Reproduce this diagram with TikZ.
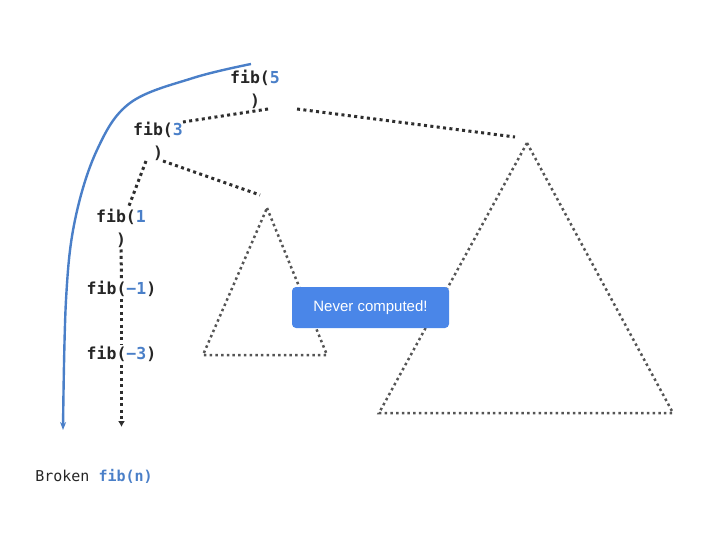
\documentclass[tikz,border=0pt]{standalone}
\usepackage{fontspec}
\setmainfont{Liberation Sans}
\setmonofont{DejaVu Sans Mono}
\usetikzlibrary{arrows.meta}
\definecolor{fibblue}{HTML}{4A7FC8}
\definecolor{boxblue}{HTML}{4A86E8}
\definecolor{dotgray}{HTML}{555555}

\begin{document}
\begin{tikzpicture}[x=1pt,y=-1pt,
    call/.style={font=\ttfamily\bfseries\fontsize{16.5}{23}\selectfont, align=center, inner sep=0pt, text=black!85},
    calledge/.style={line width=3pt, dash pattern=on 3pt off 3.4pt, draw=black!82},
    subtree/.style={line width=2.5pt, dash pattern=on 2.5pt off 3.2pt, draw=dotgray}]
      \useasboundingbox (0,0) rectangle (720,540);

       %draw subtrees
      \draw[subtree] (267,208) -- (327,355) -- (203,355) -- cycle;
      \draw[subtree] (527,143) -- (673,413) -- (379,413) -- cycle;
      \coordinate (smallin) at (260,195);
      \coordinate (bigin) at (515,137);
      \coordinate (bottom) at (121.5,427);

       %draw calls
      \node[call] (f5) at (255,89.5) {fib(\textcolor{fibblue}{5}\\)};
      \node[call] (f3) at (158,141.5) {fib(\textcolor{fibblue}{3}\\)};
      \node[call] (f1) at (121,228) {fib(\textcolor{fibblue}{1}\\)};
      \node[call] (fm1) at (121.5,289) {fib(\textcolor{fibblue}{−1})};
      \node[call] (fm3) at (121.5,354) {fib(\textcolor{fibblue}{−3})};

       %draw edges
      \draw[calledge] ([xshift=-12pt]f5.south east) -- (f3.north east);
      \draw[calledge] ([xshift=17pt]f5.south east) -- (bigin);
      \draw[calledge] ([xshift=-12pt]f3.south) -- ([xshift=7pt]f1.north);
      \draw[calledge] ([xshift=5pt]f3.south) -- (smallin);
      \foreach \a/\b in {f1/fm1, fm1/fm3} {%
        \draw[calledge] ([yshift=-2pt]\a.south) -- ([yshift=2pt]\b.north);
      }
      \draw[calledge, -{Latex[length=6pt,width=7pt]}] ([yshift=-3pt]fm3.south) -- (bottom);

      % draw call order
      \draw[fibblue, line width=2.4pt, -{Stealth[length=8pt,width=6pt]}]
      plot[smooth, tension=0.6] coordinates {(251,64) (193,78) (130,103) (97,150) (75,220) (66,300) (63,430)};

      % draw labels
      \node[fill=boxblue, rounded corners=4pt, minimum width=157pt, minimum height=41pt,
        text=white, font=\fontsize{15}{18}\selectfont] (never) at (370.5,307.5) {Never computed!};
      \node[font=\ttfamily\fontsize{15}{18}\selectfont, text=black!85] (title) at (94,476)
      {Broken \textcolor{fibblue}{\bfseries fib(n)}};
    \end{tikzpicture}
\end{document}
